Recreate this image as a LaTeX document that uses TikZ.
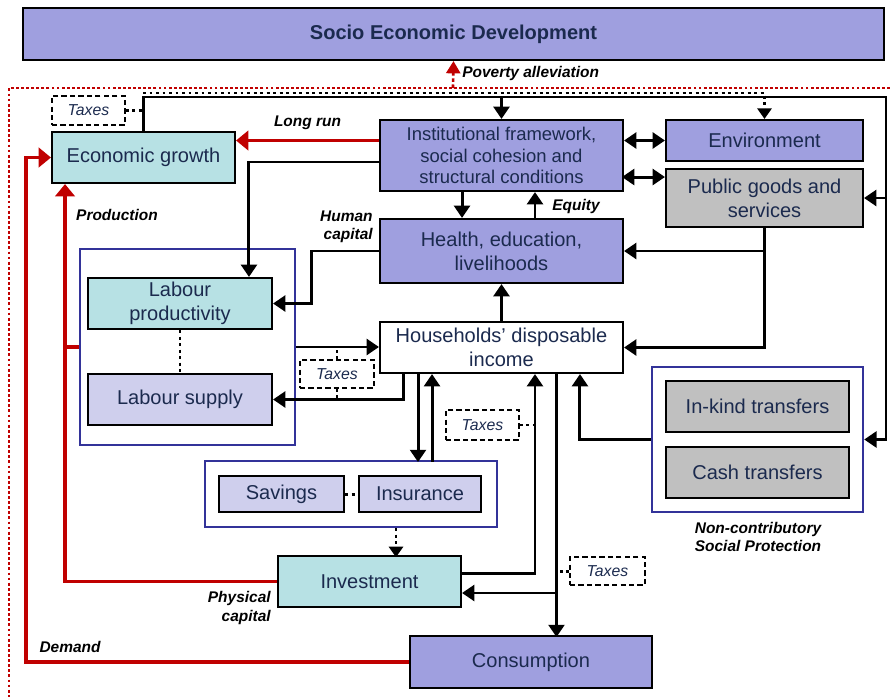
\documentclass[tikz,border=0pt]{standalone}
\usepackage{fontspec}
\setmainfont{Liberation Sans}
\usetikzlibrary{arrows.meta, positioning}

\definecolor{sedPurple}{HTML}{9F9FDF}
\definecolor{growthTeal}{HTML}{B7E1E4}
\definecolor{lightLav}{HTML}{CFCFED}
\definecolor{servGray}{HTML}{C0C0C0}
\definecolor{groupBlue}{HTML}{333399}
\definecolor{flowRed}{HTML}{C00000}
\definecolor{textNavy}{HTML}{1B2A4E}

\newcommand\boxfont{\fontsize{11.4}{13.6}\selectfont}
\newcommand\notefont{\fontsize{8.8}{10.3}\selectfont\bfseries\itshape}

\tikzstyle{arrow} = [line width=1.7pt, -{Triangle[width=9pt,length=7pt]}]
\tikzstyle{backarrow} = [line width=1.7pt, {Triangle[width=9pt,length=7pt]}-]
\tikzstyle{twoway} = [line width=1.7pt, {Triangle[width=9pt,length=7pt]}-{Triangle[width=9pt,length=7pt]}]
\tikzstyle{redarrow} = [line width=2pt, draw=flowRed, -{Triangle[width=11pt,length=7pt]}]
\tikzstyle{redlink} = [line width=2pt, draw=flowRed]
\tikzstyle{dotlink} = [line width=1.7pt, dotted]
\tikzstyle{dotarrow} = [line width=1.7pt, dotted, -{Triangle[width=8pt,length=6pt]}]
\tikzstyle{box} = [rectangle, draw=black, line width=1.2pt, align=center, text=textNavy, font=\boxfont, inner sep=1pt]
\tikzstyle{group} = [rectangle, draw=groupBlue, line width=1.4pt]
\tikzstyle{taxes} = [rectangle, draw=black, line width=1pt, dash pattern=on 3pt off 1.8pt, text=textNavy, font=\fontsize{9}{11}\selectfont\itshape]
\tikzstyle{note} = [font=\notefont, text=black, inner sep=0pt]

\begin{document}
\begin{tikzpicture}[x=0.02cm, y=-0.02cm]
\useasboundingbox (0,0) rectangle (890,697);

% Goal on top and the red frame
\node (socioDev) [box, fill=sedPurple, minimum width=17.22cm, minimum height=1.04cm, font=\boxfont\bfseries] at (453.5,34) {Socio Economic Development};
\draw [flowRed, line width=1.6pt, dash pattern=on 1.6pt off 1.3pt] (890,88) -- (9,88) -- (9,697);
\coordinate (povertyStart) at (453,88);
\draw [flowRed, line width=1.5pt, dash pattern=on 2pt off 1.5pt, -{Triangle[width=8pt,length=7pt]}] (povertyStart) -- (socioDev.south);
\node [note, anchor=west] at (462,73) {Poverty alleviation};

% Groups
\node (labourGroup) [group, minimum width=4.30cm, minimum height=3.92cm] at (187.5,347) {};
\node (savingsGroup) [group, minimum width=5.84cm, minimum height=1.32cm] at (351,494) {};
\node (protectionGroup) [group, minimum width=4.22cm, minimum height=2.90cm] at (757.5,439.5) {};

% Boxes
\node (econGrowth) [box, fill=growthTeal, minimum width=3.66cm, minimum height=1.02cm] at (143.5,157.5) {Economic growth};
\node (taxesTop) [taxes, minimum width=1.46cm, minimum height=0.58cm] at (88.5,110.5) {Taxes};
\node (institutions) [box, fill=sedPurple, minimum width=4.86cm, minimum height=1.42cm, font=\fontsize{10.5}{12.3}\selectfont] at (501.5,155.5) {Institutional framework,\\social cohesion and\\structural conditions};
\node (environment) [box, fill=sedPurple, minimum width=3.94cm, minimum height=0.82cm] at (764.5,140.5) {Environment};
\node (publicGoods) [box, fill=servGray, minimum width=3.94cm, minimum height=1.16cm] at (764.5,198) {Public goods and\\services};
\node (health) [box, fill=sedPurple, minimum width=4.86cm, minimum height=1.28cm] at (501.5,251) {Health, education,\\livelihoods};
\node (households) [box, fill=white, minimum width=4.86cm, minimum height=1.02cm] at (501.5,347.5) {Households’ disposable\\income};
\node (labourProd) [box, fill=growthTeal, minimum width=3.68cm, minimum height=1.02cm] at (180,303.5) {Labour\\productivity};
\node (labourSupply) [box, fill=lightLav, minimum width=3.68cm, minimum height=1.02cm] at (180,399.5) {Labour supply};
\node (taxesLabour) [taxes, minimum width=1.48cm, minimum height=0.56cm] at (337,374) {Taxes};
\node (savings) [box, fill=lightLav, minimum width=2.50cm, minimum height=0.72cm] at (281.5,494) {Savings};
\node (insurance) [box, fill=lightLav, minimum width=2.44cm, minimum height=0.72cm] at (420,494) {Insurance};
\node (taxesMid) [taxes, minimum width=1.46cm, minimum height=0.60cm] at (482.5,425) {Taxes};
\node (investment) [box, fill=growthTeal, minimum width=3.66cm, minimum height=1.02cm] at (369.5,581.5) {Investment};
\node (taxesLow) [taxes, minimum width=1.50cm, minimum height=0.56cm] at (607.5,571) {Taxes};
\node (consumption) [box, fill=sedPurple, minimum width=4.84cm, minimum height=1.04cm] at (531,662) {Consumption};
\node (inKind) [box, fill=servGray, minimum width=3.66cm, minimum height=1.02cm] at (757.5,406.5) {In-kind transfers};
\node (cash) [box, fill=servGray, minimum width=3.66cm, minimum height=1.02cm] at (757.5,472.5) {Cash transfers};

% Loop from growth over the top
\coordinate (loopCorner) at (886,97);
\coordinate (taxesTrail) at (143,93);
\draw [dotlink] (taxesTop.east) -- (econGrowth.north |- taxesTop.east);
\draw [dotarrow] (taxesTrail) -| (environment.north);
\draw [arrow] (econGrowth.north) |- (loopCorner) |- (protectionGroup.east);
\draw [arrow] (loopCorner |- publicGoods.east) -- (publicGoods.east);
\draw [arrow] (institutions.north |- loopCorner) -- (institutions.north);

% Institutions
\draw [redarrow] ([yshift=0.3cm]institutions.west) -- ([yshift=0.3cm]institutions.west -| econGrowth.east) node [note, midway, above=5pt] {Long run};
\draw [arrow] ([yshift=-0.13cm]institutions.west) -| ([xshift=1.38cm]labourProd.north);
\draw [twoway] (institutions.east |- environment.west) -- (environment.west);
\draw [twoway] ([yshift=0.42cm]publicGoods.west) -- ++(-43,0);
\draw [arrow] ([xshift=-0.79cm]institutions.south) -- ([xshift=-0.79cm]health.north);
\draw [arrow] ([xshift=0.67cm]health.north) -- ([xshift=0.67cm]institutions.south);
\node [note] at (576,206) {Equity};

% Health and households
\draw [arrow] (health.west) -- ++(-67,0) |- (labourProd.east);
\node [note, align=right, anchor=east] at (373,227) {Human\\capital};
\draw [arrow] (households.north) -- (health.south);
\draw [arrow] (publicGoods.south) |- (households.east);
\draw [arrow] (publicGoods.south |- health.east) -- (health.east);

% Labour
\draw [dotlink] (labourProd.south) -- (labourSupply.north);
\draw [arrow] (labourGroup.east) -- (labourGroup.east -| households.west);
\draw [dotlink] (taxesLabour.north) -- ++(0,-9);
\draw [dotlink] (taxesLabour.south) -- ++(0,9);
\draw [arrow] ([xshift=-1.97cm]households.south) |- (labourSupply.east);

% Savings, investment, consumption
\draw [arrow] ([xshift=-1.67cm]households.south) -- ++(0,88);
\draw [backarrow] ([xshift=-1.39cm]households.south) -- ++(0,88);
\draw [dotlink] (savings.east) -- (insurance.west);
\draw [dotarrow] ([xshift=0.9cm]savingsGroup.south) -- ++(0,29);
\draw [arrow] ([yshift=0.17cm]investment.east) -| ([xshift=0.67cm]households.south);
\draw [dotlink] (taxesMid.east) -- ++(16,0);
\draw [arrow] ([xshift=1.1cm]households.south) -- ++(0,263);
\draw [backarrow] ([yshift=-0.23cm]investment.east) -- ++(95,0);
\draw [dotlink] (taxesLow.west) -- ++(-14,0);

% Social protection
\draw [arrow] (protectionGroup.west) -| ([xshift=1.57cm]households.south);
\node [note, align=center] at (758,537) {Non-contributory\\Social Protection};

% Red feedback to growth
\draw [redarrow] (consumption.west) -- ++(-383,0) |- (econGrowth.west);
\node [note] at (70,647) {Demand};
\draw [redarrow] (investment.west) -| ([xshift=-1.57cm]econGrowth.south);
\draw [redlink] (labourGroup.west) -- ++(-15,0);
\node [note] at (117,215) {Production};
\node [note, align=right, anchor=east] at (271,608) {Physical\\capital};

\end{tikzpicture}
\end{document}
